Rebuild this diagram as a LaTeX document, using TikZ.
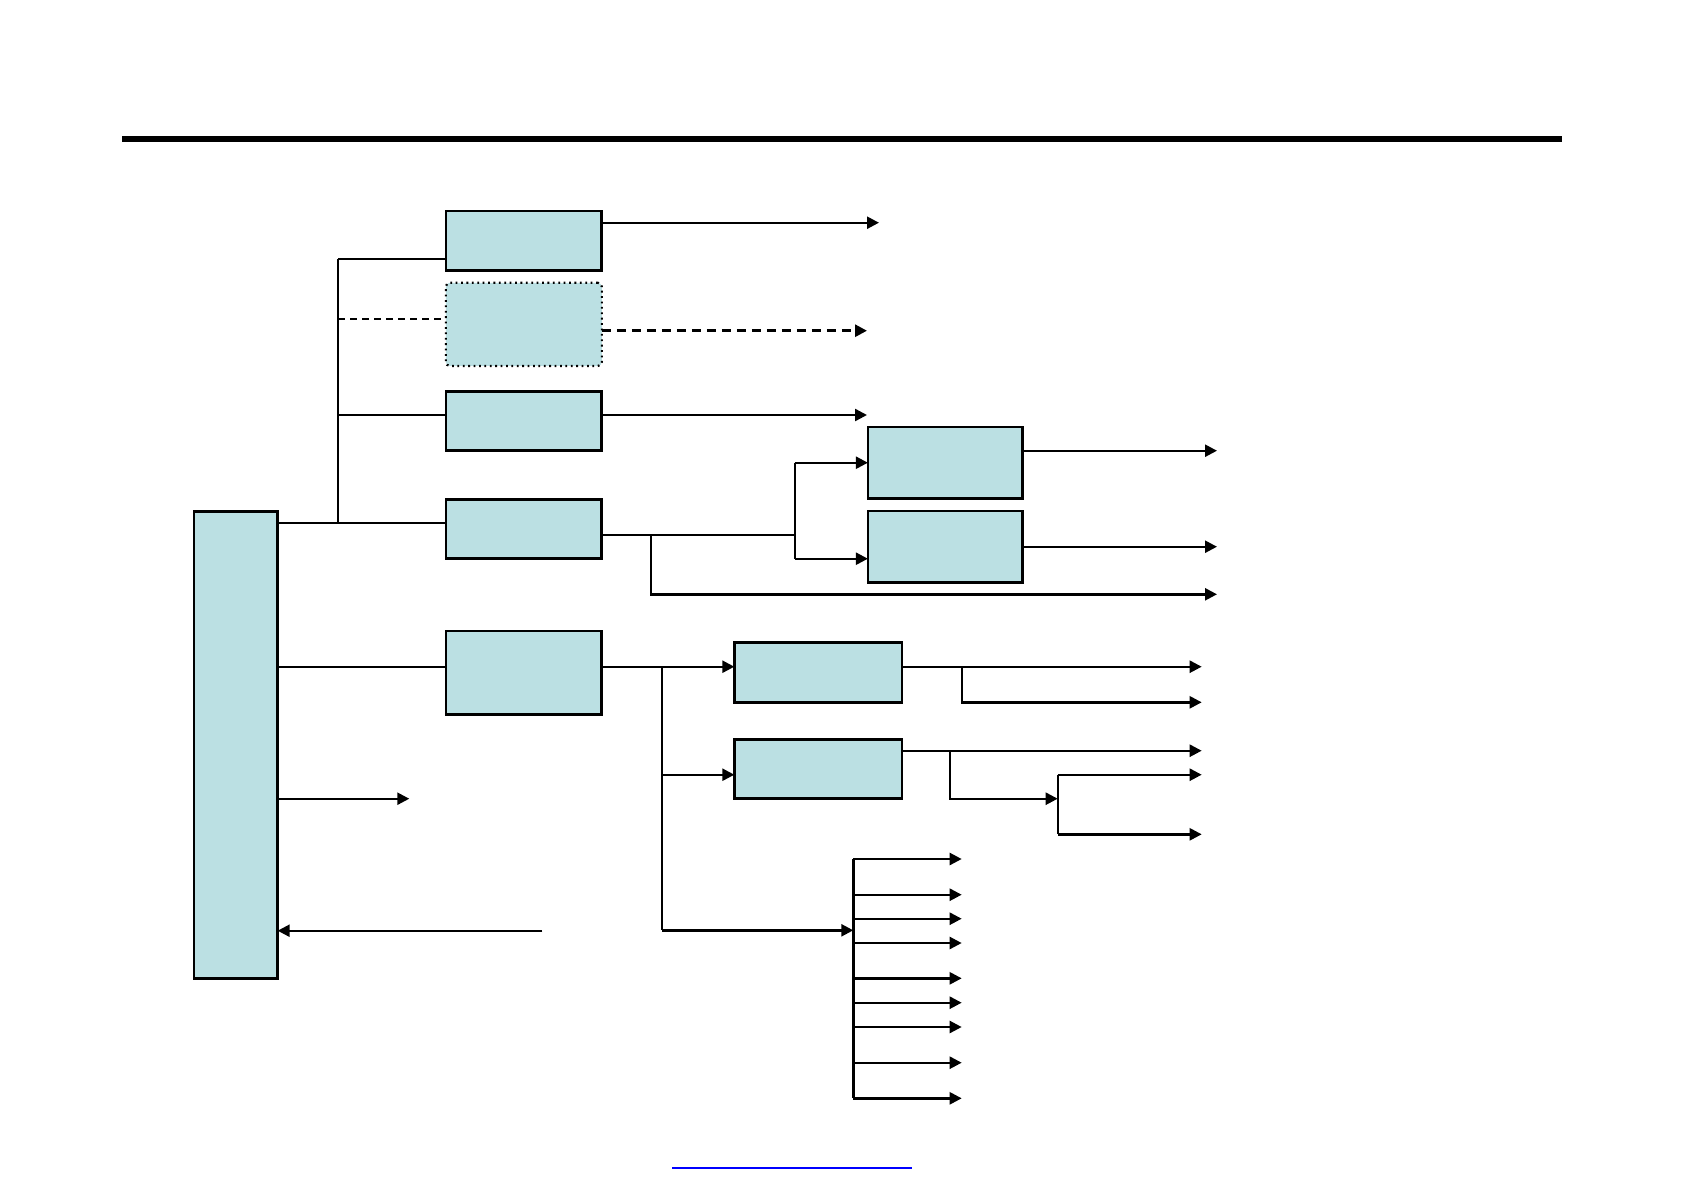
\documentclass[tikz,border=0pt]{standalone}
\usetikzlibrary{arrows.meta,calc}
\definecolor{boxfill}{HTML}{BBE0E3}
\begin{document}
\begin{tikzpicture}[x=0.5pt,y=-0.5pt,
  box/.style={draw,line width=1.4pt,fill=boxfill,rectangle,inner sep=0pt,outer sep=0pt},
  dotbox/.style={box,line width=1.1pt,dash pattern=on 0.9pt off 1.8pt,rounded corners=2pt},
  wire/.style={line width=1.2pt},
  arr/.style={wire,-{Triangle[length=6pt,width=6pt]}},
  dashwire/.style={line width=1pt,dash pattern=on 3.5pt off 2.5pt},
  dasharr/.style={line width=1.4pt,dash pattern=on 4.5pt off 3pt,-{Triangle[length=6pt,width=6pt]}}]
\useasboundingbox (0,0) rectangle (1683,1191);
% title rule
\coordinate (barL) at (122,139);
\coordinate (barR) at (1562,139);
\draw[line width=3pt] (barL) -- (barR);
% boxes
\node[box,minimum width=41.8pt,minimum height=233.5pt] (main) at (235.85,744.85) {};
\node[box,minimum width=77.8pt,minimum height=29.7pt] (b1) at (523.85,240.7) {};
\node[dotbox,minimum width=78pt,minimum height=41.6pt] (b2) at (523.85,324.35) {};
\node[box,minimum width=77.8pt,minimum height=29.6pt] (b3) at (523.85,420.85) {};
\node[box,minimum width=77.8pt,minimum height=29.6pt] (b4) at (523.85,528.85) {};
\node[box,minimum width=77.4pt,minimum height=35.8pt] (b5) at (945.3,462.85) {};
\node[box,minimum width=77.4pt,minimum height=35.7pt] (b6) at (945.3,546.7) {};
\node[box,minimum width=77.8pt,minimum height=41.7pt] (b7) at (523.85,672.7) {};
\node[box,minimum width=83.8pt,minimum height=30pt] (b8) at (818.15,672.65) {};
\node[box,minimum width=83.8pt,minimum height=29.7pt] (b9) at (818.15,769) {};
% upper trunk
\coordinate (j1) at (338,259);
\coordinate (j2) at (338,318.7);
\coordinate (j3) at (338,415);
\coordinate (j4) at (338,522.7);
\draw[wire] (j4) -- (j1);
\draw[wire] (j1) -- (j1 -| b1.west);
\draw[dashwire] (j2) -- (j2 -| b2.west);
\draw[wire] (j3) -- (j3 -| b3.west);
\draw[wire] (main.east |- j4) -- (j4 -| b4.west);
% outputs of b1..b3
\coordinate (e1) at (879,222.7);
\coordinate (e2) at (867,330.7);
\coordinate (e3) at (867,415);
\draw[arr] (e1 -| b1.east) -- (e1);
\draw[dasharr] (e2 -| b2.east) -- (e2);
\draw[arr] (e3 -| b3.east) -- (e3);
% b4 outputs
\coordinate (s4) at (794.7,535);
\coordinate (s4a) at (794.7,462.7);
\coordinate (s4b) at (794.7,558.7);
\coordinate (k4) at (650.7,535);
\coordinate (k4d) at (650.7,594.3);
\coordinate (e4) at (1217,594.3);
\draw[wire] (b4.east |- s4) -- (s4);
\draw[wire] (s4a) -- (s4b);
\draw[arr] (s4a) -- (s4a -| b5.west);
\draw[arr] (s4b) -- (s4b -| b6.west);
\draw[arr] (k4) -- (k4d) -- (e4);
\coordinate (e5) at (1217,450.7);
\coordinate (e6) at (1217,546.7);
\draw[arr] (e5 -| b5.east) -- (e5);
\draw[arr] (e6 -| b6.east) -- (e6);
% main to b7
\coordinate (m7) at (400,666.7);
\draw[wire] (main.east |- m7) -- (m7 -| b7.west);
% lower trunk
\coordinate (t7) at (662,666.7);
\coordinate (t9) at (662,774.7);
\coordinate (tf) at (662,930.3);
\coordinate (fanin) at (853.3,930.3);
\draw[wire] (b7.east |- t7) -- (t7);
\draw[arr] (t7) -- (t7 -| b8.west);
\draw[wire] (t7) -- (tf);
\draw[arr] (t9) -- (t9 -| b9.west);
\draw[arr] (tf) -- (fanin);
% b8 outputs
\coordinate (e8a) at (1201.7,666.7);
\coordinate (k8) at (962,666.7);
\coordinate (k8d) at (962,702.3);
\coordinate (e8b) at (1201.7,702.3);
\draw[arr] (b8.east |- e8a) -- (e8a);
\draw[arr] (k8) -- (k8d) -- (e8b);
% b9 outputs
\coordinate (e9a) at (1201.7,750.7);
\coordinate (k9) at (950,750.7);
\coordinate (k9d) at (950,798.7);
\coordinate (v9) at (1057.7,798.7);
\coordinate (v9t) at (1057.7,774.7);
\coordinate (v9b) at (1057.7,834.3);
\coordinate (e9b) at (1201.7,774.7);
\coordinate (e9c) at (1201.7,834.3);
\draw[arr] (b9.east |- e9a) -- (e9a);
\draw[arr] (k9) -- (k9d) -- (v9);
\draw[wire] (v9t) -- (v9b);
\draw[arr] (v9t) -- (e9b);
\draw[arr] (v9b) -- (e9c);
% main outputs / inputs
\coordinate (mo) at (409.3,798.7);
\coordinate (mi) at (542.3,930.7);
\draw[arr] (main.east |- mo) -- (mo);
\draw[arr] (mi) -- (main.east |- mi);
% fan
\coordinate (fvt) at (853.3,859);
\coordinate (fvb) at (853.3,1098.3);
\draw[wire] (fvt) -- (fvb);
\foreach \yy [count=\i] in {859,894.7,918.7,943,978.3,1002.7,1027,1062.7,1098.3}{
  \coordinate (fan\i) at (961.7,\yy);
  \draw[arr] (fvt |- fan\i) -- (fan\i);
}
% link underline
\coordinate (lkL) at (672,1168.3);
\coordinate (lkR) at (911.7,1168.3);
\draw[blue,line width=1pt] (lkL) -- (lkR);
\end{tikzpicture}
\end{document}
